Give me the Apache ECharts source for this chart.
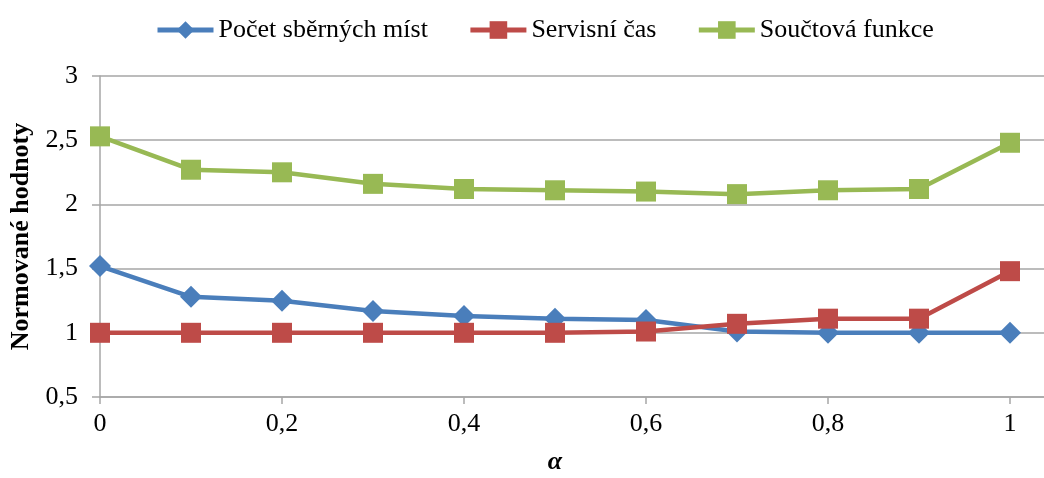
<!DOCTYPE html>
<html>
<head>
<meta charset="utf-8">
<script src="https://cdn.jsdelivr.net/npm/echarts@6/dist/echarts.min.js"></script>
<style>
html,body{margin:0;padding:0;background:#fff;}
#c{width:1044px;height:478px;}
</style>
</head>
<body>
<div id="c"></div>
<script>
const alphas = [0, 0.1, 0.2, 0.3, 0.4, 0.5, 0.6, 0.7, 0.8, 0.9, 1];
const pocetSbernychMist = [1.52, 1.28, 1.25, 1.17, 1.13, 1.11, 1.10, 1.01, 1.0, 1.0, 1.0];
const servisniCas = [1.0, 1.0, 1.0, 1.0, 1.0, 1.0, 1.01, 1.07, 1.11, 1.11, 1.48];
const soucetovaFunkce = [2.53, 2.27, 2.25, 2.16, 2.12, 2.11, 2.10, 2.08, 2.11, 2.12, 2.48];
const xTicks = [0, 0.2, 0.4, 0.6, 0.8, 1];
const seriesNames = ['Počet sběrných míst', 'Servisní čas', 'Součtová funkce'];

const font = 'Liberation Serif';
const gridColor = '#a6a6a6';
const pair = arr => alphas.map((a, i) => [a, arr[i]]);
const fmt = v => String(Math.round(v * 10) / 10).replace('.', ',');

const chart = echarts.init(document.getElementById('c'), null, {renderer: 'canvas'});
chart.setOption({
  animation: false,
  backgroundColor: '#fff',
  legend: {
    left: 150, top: 12,
    itemWidth: 56, itemHeight: 22, itemGap: 40,
    lineStyle: {width: 5},
    textStyle: {fontFamily: font, fontSize: 26, color: '#000'},
    data: seriesNames
  },
  grid: {left: 100, right: 0, top: 76, bottom: 81, containLabel: false, outerBoundsMode: 'none'},
  xAxis: {
    type: 'value', min: 0, max: 944 / 910,
    name: 'α', nameLocation: 'middle', nameGap: 52,
    nameTextStyle: {fontFamily: font, fontSize: 26, fontWeight: 'bold', fontStyle: 'italic', color: '#000', padding: [0, 34, 0, 0]},
    axisLine: {show: true, lineStyle: {color: gridColor, width: 1.5}},
    axisTick: {show: true, length: 7, lineStyle: {color: gridColor, width: 1.5}, customValues: xTicks},
    axisLabel: {customValues: xTicks, formatter: fmt, fontFamily: font, fontSize: 26, color: '#000', margin: 14},
    splitLine: {show: false}
  },
  yAxis: {
    type: 'value', min: 0.5, max: 3, interval: 0.5,
    name: 'Normované hodnoty', nameLocation: 'middle', nameGap: 66, nameRotate: 90,
    nameTextStyle: {fontFamily: font, fontSize: 26, fontWeight: 'bold', color: '#000'},
    axisLine: {show: true, lineStyle: {color: gridColor, width: 1.5}},
    axisTick: {show: true, length: 8, lineStyle: {color: gridColor, width: 1.5}},
    axisLabel: {formatter: fmt, fontFamily: font, fontSize: 26, color: '#000', margin: 22},
    splitLine: {show: true, lineStyle: {color: gridColor, width: 1.5}}
  },
  series: [
    {name: seriesNames[0], type: 'line', data: pair(pocetSbernychMist), symbol: 'diamond', symbolSize: 22,
     itemStyle: {color: '#4A7EBB'}, lineStyle: {color: '#4A7EBB', width: 4.5}},
    {name: seriesNames[1], type: 'line', data: pair(servisniCas), symbol: 'rect', symbolSize: 20,
     itemStyle: {color: '#BE4B48'}, lineStyle: {color: '#BE4B48', width: 4.5}},
    {name: seriesNames[2], type: 'line', data: pair(soucetovaFunkce), symbol: 'rect', symbolSize: 20,
     itemStyle: {color: '#98B954'}, lineStyle: {color: '#98B954', width: 4.5}}
  ]
});
</script>
</body>
</html>
